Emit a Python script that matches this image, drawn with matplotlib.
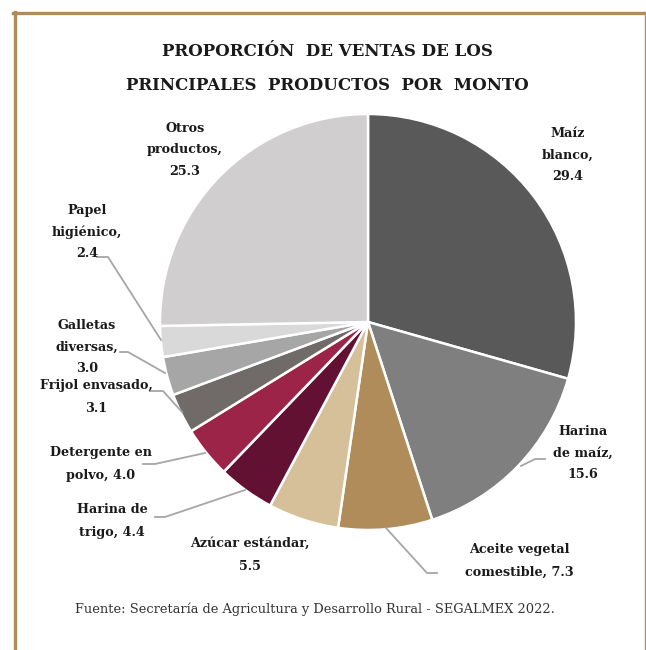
import matplotlib.pyplot as plt
from matplotlib.lines import Line2D

# datos de la grafica
productos = ['Maíz\nblanco,\n29.4', 'Harina\nde maíz,\n15.6', 'Aceite vegetal\ncomestible, 7.3',
             'Azúcar estándar,\n5.5', 'Harina de\ntrigo, 4.4', 'Detergente en\npolvo, 4.0',
             'Frijol envasado,\n3.1', 'Galletas\ndiversas,\n3.0', 'Papel\nhigiénico,\n2.4',
             'Otros\nproductos,\n25.3']
valores = [29.4, 15.6, 7.3, 5.5, 4.4, 4.0, 3.1, 3.0, 2.4, 25.3]
colores = ['#595959', '#7f7f7f', '#b08c5a', '#d5c09a', '#621132', '#9d2449',
           '#706b69', '#a6a6a6', '#d9d9d9', '#d0cecf']

W, H = 646, 650
fig = plt.figure(figsize=(W / 100, H / 100), dpi=100)
ax = fig.add_axes([0, 0, 1, 1])

def py(y):
    # coordenada de imagen -> coordenada de ejes
    return H - y

ax.pie(valores, colors=colores, startangle=90, counterclock=False,
       center=(368, py(322)), radius=208, frame=True,
       wedgeprops=dict(edgecolor='white', linewidth=1.8))
ax.set_xlim(0, W)
ax.set_ylim(0, H)
ax.set_aspect('equal')
ax.axis('off')

font = dict(family='DejaVu Serif', fontweight='bold', fontsize=9.2, color='#1a1a1a',
            ha='center', va='center')

# posiciones de etiquetas (pixeles) y espaciado de lineas
pos = [(568, 155), (583, 453), (519, 561), (250, 555), (112, 521), (101, 464),
       (96, 397), (87, 347), (87, 232), (185, 150)]
for txt, (x, y) in zip(productos, pos):
    sp = 1.85 if txt.count('\n') == 2 else 2.0
    ax.text(x, py(y), txt, linespacing=sp, **font)

# lineas guia
guias = [
    [(545, 459), (535, 459), (521, 466)],
    [(386, 528), (427, 573), (437, 573)],
    [(245, 490), (165, 517), (155, 517)],
    [(205, 453), (155, 464), (143, 464)],
    [(150, 391), (163, 391), (182, 412)],
    [(120, 352), (128, 352), (165, 373)],
    [(97, 257), (108, 257), (161, 340)],
]
for g in guias:
    ax.plot([p[0] for p in g], [py(p[1]) for p in g], color='#a6a6a6', lw=1.3)

# titulo
ax.text(327, py(52), 'PROPORCIÓN  DE VENTAS DE LOS', family='DejaVu Serif',
        fontweight='bold', fontsize=12, ha='center', va='center', color='#1a1a1a')
ax.text(327, py(86), 'PRINCIPALES  PRODUCTOS  POR  MONTO', family='DejaVu Serif',
        fontweight='bold', fontsize=12, ha='center', va='center', color='#1a1a1a')

# fuente
ax.text(315, py(609), 'Fuente: Secretaría de Agricultura y Desarrollo Rural - SEGALMEX 2022.',
        family='DejaVu Serif', fontsize=9.4, ha='center', va='center', color='#333333')

# marco
borde = '#b08c5a'
fig.add_artist(Line2D([14.5 / W, 14.5 / W], [0, 1 - 12 / H], color=borde, lw=2.4))
fig.add_artist(Line2D([13.5 / W, 645 / W], [1 - 12.5 / H, 1 - 12.5 / H], color=borde, lw=2.4))
fig.add_artist(Line2D([645 / W, 645 / W], [0, 1 - 12 / H], color=borde, lw=1.0))

fig.savefig('out.png', dpi=100)
